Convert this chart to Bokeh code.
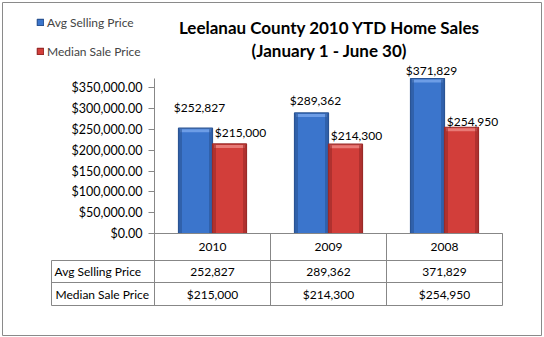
from bokeh.plotting import figure
from bokeh.models import Range1d, FixedTicker, NumeralTickFormatter, Legend, LegendItem
from bokeh.core.properties import value
from bokeh.embed import file_html
from bokeh.resources import INLINE

# ---------------- data ----------------
years = ["2010", "2009", "2008"]
avg_selling_price = [252827, 289362, 371829]
median_sale_price = [215000, 214300, 254950]
series_names = ["Avg Selling Price", "Median Sale Price"]
y_ticks = [0, 50000, 100000, 150000, 200000, 250000, 300000, 350000]
title_lines = ["Leelanau County 2010 YTD Home Sales", "(January 1 - June 30)"]

# ---------------- layout (pixels) ----------------
W, H = 544, 337
PLOT_LEFT, PLOT_TOP, PLOT_BOTTOM = 154, 78, 233
CAT_PX = 116
Y_MAX = 372000
PX_PER_Y = (PLOT_BOTTOM - PLOT_TOP) / Y_MAX
FONT = "Lato"
GRID = "#878787"


def X(px):
    return (px - PLOT_LEFT) / CAT_PX


def Y(py):
    return (PLOT_BOTTOM - py) / PX_PER_Y


p = figure(width=W, height=H, x_range=Range1d(X(0), X(W)), y_range=Range1d(Y(H), Y(0)),
           output_backend="svg", toolbar_location=None, min_border=0,
           x_axis_location=None)
p.outline_line_color = None
p.background_fill_color = "white"
p.border_fill_color = "white"
p.grid.grid_line_color = None

n = len(years)
centers = [i + 0.5 for i in range(n)]
BAR_W = 34 / CAT_PX
blue_x = [c - BAR_W / 2 for c in centers]
red_x = [c + BAR_W / 2 for c in centers]


def bevel_bars(xs, tops, main, dark, light):
    r = p.vbar(x=xs, top=tops, bottom=0, width=BAR_W, fill_color=main,
               line_color=dark, line_width=1.2)
    p.vbar(x=xs, top=[t - 1 / PX_PER_Y for t in tops], bottom=[t - 4 / PX_PER_Y for t in tops],
           width=BAR_W - 3 / CAT_PX, fill_color=light, line_color=None)
    edge = 3 / CAT_PX
    p.vbar(x=[x - BAR_W / 2 + edge / 2 + 0.5 / CAT_PX for x in xs], top=[t - 1 / PX_PER_Y for t in tops],
           bottom=0, width=edge, fill_color=dark, fill_alpha=0.6, line_color=None)
    p.vbar(x=[x + BAR_W / 2 - edge / 2 - 0.5 / CAT_PX for x in xs], top=[t - 1 / PX_PER_Y for t in tops],
           bottom=0, width=edge, fill_color=dark, fill_alpha=0.6, line_color=None)
    return r


r_blue = bevel_bars(blue_x, avg_selling_price, "#3b75cc", "#2a5494", "#6d9de6")
r_red = bevel_bars(red_x, median_sale_price, "#d23e3a", "#9a2a28", "#e87a76")

# data labels
blue_dy = [-21, -12, -8]
red_dy = [-11, -9, -6]
p.text(x=blue_x, y=avg_selling_price, text=[f"${v:,}" for v in avg_selling_price],
       x_offset=4, y_offset=blue_dy, text_font=value(FONT), text_font_size="12px",
       text_align="center", text_baseline="middle", text_color="black")
p.text(x=red_x, y=median_sale_price, text=[f"${v:,}" for v in median_sale_price],
       x_offset=11, y_offset=red_dy, text_font=value(FONT), text_font_size="12px",
       text_align="center", text_baseline="middle", text_color="black")

# y axis
ax = p.yaxis[0]
ax.fixed_location = 0
ax.ticker = FixedTicker(ticks=y_ticks)
ax.formatter = NumeralTickFormatter(format="$0,0.00")
ax.axis_line_color = None
ax.major_tick_out = 6
ax.major_tick_in = 0
ax.minor_tick_line_color = None
ax.major_tick_line_color = GRID
ax.major_label_text_font = FONT
ax.major_label_text_font_size = "12.5px"
ax.major_label_text_color = "black"
ax.major_label_standoff = 6

# data table
T_HEAD, T_ROW1, T_ROW2, T_BOT = 233, 260, 282, 305
T_LEFT = 51
p.segment(x0=[0, 0, X(T_LEFT), X(T_LEFT), X(T_LEFT)], x1=[n] * 5,
          y0=[0, 0, Y(T_ROW1), Y(T_ROW2), Y(T_BOT)], y1=[0, 0, Y(T_ROW1), Y(T_ROW2), Y(T_BOT)],
          line_color=GRID, line_width=1)
p.segment(x0=[0] + list(range(1, n + 1)) + [X(T_LEFT)],
          x1=[0] + list(range(1, n + 1)) + [X(T_LEFT)],
          y0=[Y_MAX] + [0] * n + [Y(T_ROW1)],
          y1=[Y(T_BOT)] * (n + 2), line_color=GRID, line_width=1)

p.text(x=centers, y=[Y((T_HEAD + T_ROW1) / 2)] * n, text=years, text_font=value(FONT),
       text_font_size="12px", text_align="center", text_baseline="middle", text_color="black")
p.text(x=centers, y=[Y((T_ROW1 + T_ROW2) / 2)] * n, text=[f"{v:,}" for v in avg_selling_price],
       text_font=value(FONT), text_font_size="12px", text_align="center", text_baseline="middle",
       text_color="black")
p.text(x=centers, y=[Y((T_ROW2 + T_BOT) / 2)] * n, text=[f"${v:,}" for v in median_sale_price],
       text_font=value(FONT), text_font_size="12px", text_align="center", text_baseline="middle",
       text_color="black")
p.text(x=[X(T_LEFT + 3), X(T_LEFT + 4)], y=[Y((T_ROW1 + T_ROW2) / 2), Y((T_ROW2 + T_BOT) / 2)],
       text=series_names, text_font=value(FONT), text_font_size="12px", text_align="left",
       text_baseline="middle", text_color="black")

# title
p.text(x=[X(329), X(329)], y=[Y(27), Y(50)], text=title_lines, text_font=value(FONT),
       text_font_size="17px", text_font_style="bold", text_align="center",
       text_baseline="middle", text_color="black")

# chart border
p.quad(left=[X(2)], right=[X(541)], top=[Y(2)], bottom=[Y(335)], fill_color=None,
       line_color="#8a8a8a", line_width=1)

# legend
legend = Legend(items=[LegendItem(label=series_names[0], renderers=[r_blue]),
                       LegendItem(label=series_names[1], renderers=[r_red])],
                location=(36, H - 59), orientation="vertical", glyph_width=8, glyph_height=8,
                label_height=16, spacing=13, padding=0, margin=0, label_standoff=3,
                border_line_color=None, background_fill_alpha=0,
                label_text_font=FONT, label_text_font_size="12px")
p.add_layout(legend)

open("out.html", "w").write(file_html(p, INLINE))
